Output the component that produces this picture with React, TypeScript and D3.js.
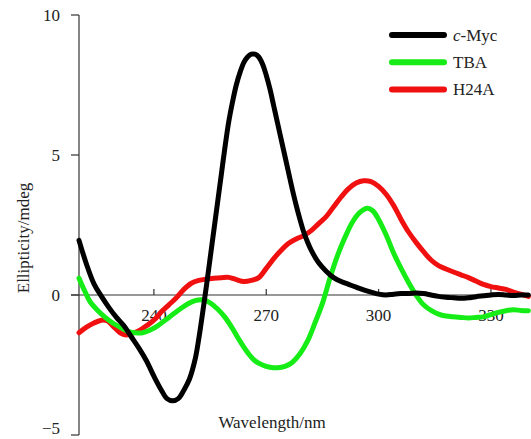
import React from "react";
import * as d3 from "d3";

const mycWl = [220,222,224,226,228,230,232,234,236,238,240,242,243.5,245,246.5,248,249.5,251,252,253,254,255,256,257,258,259,260,261,262,263,264,265,266,267,268,269,270,271,272,273,274,275,276,277,278,279,280,281,282,284,286,288,290,292,294,296,298,300,302,304,306,308,310,312,314,316,318,320,322,324,326,328,330,332,334,336,338,340];
const mycVal = [1.95,1.1,0.4,-0.05,-0.45,-0.8,-1.1,-1.5,-1.9,-2.35,-2.9,-3.4,-3.7,-3.78,-3.7,-3.4,-3.0,-2.3,-1.55,-0.65,0.3,1.3,2.3,3.3,4.3,5.3,6.2,6.9,7.5,7.95,8.3,8.5,8.6,8.6,8.5,8.25,7.85,7.35,6.75,6.15,5.55,4.95,4.35,3.75,3.2,2.7,2.25,1.9,1.6,1.15,0.85,0.62,0.48,0.38,0.28,0.18,0.1,0.03,0.0,0.03,0.05,0.05,0.07,0.05,0.0,-0.05,-0.08,-0.1,-0.12,-0.1,-0.06,-0.03,0.0,0.02,0.0,-0.02,0.0,0.0];

const tbaWl = [220,221.5,223,225,227,229,231,233,235,237,239,241,243,245,247,249,251,253,255,257,259,261,263,265,267,269,271,273,275,277,279,281,283,285,287,289,291,293,295,297,298.5,300,302,304,306,308,310,312,314,316,318,320,322,324,326,328,330,332,334,336,338,340];
const tbaVal = [0.6,0.15,-0.25,-0.55,-0.8,-1.0,-1.15,-1.3,-1.35,-1.35,-1.25,-1.1,-0.9,-0.7,-0.5,-0.32,-0.2,-0.17,-0.28,-0.5,-0.8,-1.2,-1.65,-2.05,-2.35,-2.5,-2.58,-2.6,-2.55,-2.4,-2.1,-1.65,-1.0,-0.3,0.6,1.4,2.05,2.6,2.95,3.1,3.0,2.7,2.15,1.5,0.95,0.45,0.0,-0.35,-0.55,-0.68,-0.75,-0.78,-0.8,-0.82,-0.8,-0.78,-0.7,-0.62,-0.56,-0.53,-0.55,-0.56];

const h24aWl = [220,222,224,226,227.5,229,231,232.5,234,236,238,240,242,244,246,248,250,252,254,256,258,260,262,264,266,268,270,272,274,276,278,280,282,284,286,288,290,292,294,296,298,300,302,304,306,308,310,312,314,316,318,320,322,324,326,328,330,332,334,336,338,340];
const h24aVal = [-1.35,-1.15,-1.0,-0.9,-0.92,-1.1,-1.35,-1.43,-1.38,-1.28,-1.1,-0.9,-0.6,-0.35,-0.1,0.2,0.42,0.52,0.57,0.6,0.62,0.63,0.55,0.48,0.52,0.62,0.95,1.3,1.6,1.85,2.0,2.12,2.3,2.55,2.8,3.15,3.5,3.8,4.0,4.08,4.05,3.88,3.6,3.2,2.7,2.25,1.88,1.55,1.25,1.05,0.93,0.82,0.72,0.62,0.5,0.38,0.3,0.25,0.2,0.1,0.03,-0.05];

const xTicks = [240, 270, 300, 330];
const yTicks = [10, 5, 0, -5];
const seriesNames = ["c-Myc", "TBA", "H24A"];
const seriesColors = ["#000000", "#16ec16", "#f01010"];

const FONT = "'Liberation Serif', 'DejaVu Serif', 'Times New Roman', serif";

export default function App() {
  const x = d3.scaleLinear().domain([220, 340]).range([79, 528.4]);
  const y = d3.scaleLinear().domain([-5, 10]).range([435, 15]);
  const line = d3
    .line<[number, number]>()
    .x((d) => x(d[0]))
    .y((d) => y(d[1]))
    .curve(d3.curveCatmullRom.alpha(0.5));

  const series = [
    { name: seriesNames[2], color: seriesColors[2], pts: h24aWl.map((w, i) => [w, h24aVal[i]] as [number, number]) },
    { name: seriesNames[1], color: seriesColors[1], pts: tbaWl.map((w, i) => [w, tbaVal[i]] as [number, number]) },
    { name: seriesNames[0], color: seriesColors[0], pts: mycWl.map((w, i) => [w, mycVal[i]] as [number, number]) },
  ];

  const axisColor = "#333";
  const ts = { fontFamily: FONT, fontSize: 17, fill: "#222" } as React.CSSProperties;

  return (
    <svg
      width={531}
      height={439}
      style={{ position: "absolute", left: 0, top: 0, background: "#fff" }}
    >
      {/* y axis */}
      <line x1={x(220)} x2={x(220)} y1={y(10)} y2={y(-5)} stroke={axisColor} strokeWidth={1.2} />
      {yTicks.map((t) => (
        <g key={t}>
          <line x1={x(220) - 8} x2={x(220)} y1={y(t)} y2={y(t)} stroke={axisColor} strokeWidth={1.2} />
          <text x={60} y={t === -5 ? 434 : y(t)} dy={t === -5 ? 0 : "0.35em"} textAnchor="end" style={ts}>
            {t < 0 ? "\u2212" + Math.abs(t) : t}
          </text>
        </g>
      ))}
      {/* x axis at y=0 */}
      <line x1={x(220) - 8} x2={529} y1={y(0)} y2={y(0)} stroke={axisColor} strokeWidth={1.2} />
      {xTicks.map((t) => (
        <g key={t}>
          <line x1={x(t)} x2={x(t)} y1={y(0) - 6} y2={y(0)} stroke={axisColor} strokeWidth={1.2} />
          <text x={x(t)} y={y(0) + 26} textAnchor="middle" style={ts}>
            {t}
          </text>
        </g>
      ))}
      {/* data */}
      {series.map((s) => (
        <path
          key={s.name}
          d={line(s.pts) || ""}
          fill="none"
          stroke={s.color}
          strokeWidth={5}
          strokeLinejoin="round"
          strokeLinecap="round"
        />
      ))}
      {/* axis labels */}
      <text transform={`translate(29, ${238}) rotate(-90)`} textAnchor="middle" style={ts}>
        Ellipticity/mdeg
      </text>
      <text x={272} y={428} textAnchor="middle" style={ts}>
        Wavelength/nm
      </text>
      {/* legend */}
      {seriesNames.map((n, i) => (
        <g key={n} transform={`translate(0, ${35 + i * 27.2})`}>
          <line x1={392} x2={444} y1={0} y2={0} stroke={seriesColors[i]} strokeWidth={6} strokeLinecap="round" />
          <text x={453} y={0} dy="0.35em" style={ts}>
            {i === 0 ? (
              <>
                <tspan style={{ fontStyle: "italic" }}>c</tspan>-Myc
              </>
            ) : (
              n
            )}
          </text>
        </g>
      ))}
    </svg>
  );
}
